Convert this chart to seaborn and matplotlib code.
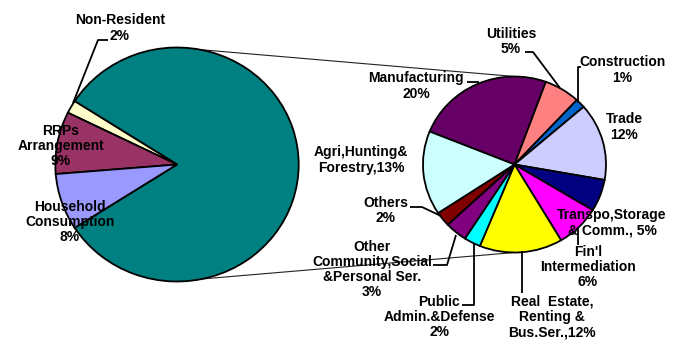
import numpy as np
import matplotlib
matplotlib.use("Agg")
import matplotlib.pyplot as plt
import seaborn as sns

# ---------------- data ----------------
main_names = ["Non-Resident\n{}", "RRPs\nArrangement\n{}", "Household\nConsumption\n{}"]
main_values = [1.8, 8.6, 7.8]
main_colors = ["#FFFFCC", "#993366", "#9999FF"]
industry_color = "#008080"

sub_names = ["Manufacturing\n{}", "Utilities\n{}", "Construction\n{}", "Trade\n{}",
             "Transpo,Storage\n& Comm., {}", "Fin'l\nIntermediation\n{}",
             "Real  Estate,\nRenting &\nBus.Ser.,{}", "Public\nAdmin.&Defense\n{}",
             "Other\nCommunity,Social\n&Personal Ser.\n{}", "Others\n{}",
             "Agri,Hunting&\nForestry,{}"]
sub_values = [20.0, 5.2, 1.4, 11.6, 4.8, 6.4, 12.0, 2.4, 3.2, 2.2, 12.6]
sub_colors = ["#660066", "#FF8080", "#0066CC", "#CCCCFF", "#000080", "#FF00FF",
              "#FFFF00", "#00FFFF", "#800080", "#800000", "#CCFFFF"]

# ---------------- style ----------------
sns.set_theme(style="white")
plt.rcParams["font.family"] = ["Liberation Sans", "DejaVu Sans"]

W, H = 679, 340
S = 1.04  # horizontal stretch of the reference rendering

def P(x, y):
    return (x / S, H - y)

fig = plt.figure(figsize=(W / 100, H / 100), dpi=100)
ax = fig.add_axes([0, 0, 1, 1])

industry_total = sum(sub_values)
left_vals = [industry_total] + main_values
left_cols = sns.color_palette([industry_color] + main_colors)
right_cols = sns.color_palette(sub_colors)

LC, LR = P(177, 164.5), 117
RC, RR = P(514.5, 164.5), 88
wp = dict(edgecolor="black", linewidth=1.3)

ax.pie(left_vals, colors=left_cols, center=LC, radius=LR,
       startangle=-industry_total / sum(left_vals) * 360 / 2,
       counterclock=True, wedgeprops=wp)
ax.pie(sub_values, colors=right_cols, center=RC, radius=RR,
       startangle=158, counterclock=False, wedgeprops=wp)

# connector lines
def onc(c, r, a):
    t = np.deg2rad(a)
    return (c[0] + r * np.cos(t), c[1] + r * np.sin(t))

for a1, a2 in [(79, 90), (-78, -90)]:
    p1 = onc(LC, LR, a1)
    p2 = onc(RC, RR, a2)
    ax.plot([p1[0], p2[0]], [p1[1], p2[1]], color="#222222", lw=0.8, zorder=0.5)

# labels
fs = 10
tk = dict(ha="center", va="center", fontsize=fs, fontweight="bold",
          color="black", linespacing=1.12, multialignment="center")

main_pos = [(120, 28), (61, 146), (70, 222)]
for name, v, (x, y) in zip(main_names, main_values, main_pos):
    ax.text(*P(x, y), name.format(f"{v:.0f}%"), zorder=5, **tk)

sub_pos = [(416, 86), (511, 41.5), (622, 70), (624, 127), (612, 222.5),
           (588, 267), (552, 317), (439, 317), (372, 269.5), (386, 210.5),
           (361, 160)]
for name, v, (x, y) in zip(sub_names, sub_values, sub_pos):
    ax.text(*P(x, y), name.format(f"{v:.0f}%"), zorder=5, **tk)

# leader lines (pixel paths)
leaders = [
    [(108, 40), (98, 40), (73, 103)],
    [(525, 52), (533, 52), (560, 88)],
    [(581, 67), (578, 67), (578, 103)],
    [(467, 82), (479, 82)],
    [(410, 207), (422, 207), (441, 216)],
    [(433, 265), (447, 265), (456, 235)],
    [(462, 305), (474, 305), (474, 244)],
    [(522, 293), (522, 251)],
    [(578, 245), (578, 227)],
]
for path in leaders:
    pts = [P(x, y) for x, y in path]
    ax.plot([p[0] for p in pts], [p[1] for p in pts], color="black", lw=1.3,
            zorder=4, solid_capstyle="butt")

ax.set_xlim(0, W / S)
ax.set_ylim(0, H)
ax.set_aspect("auto")
ax.axis("off")

fig.savefig("out.png", dpi=100, facecolor="white")
